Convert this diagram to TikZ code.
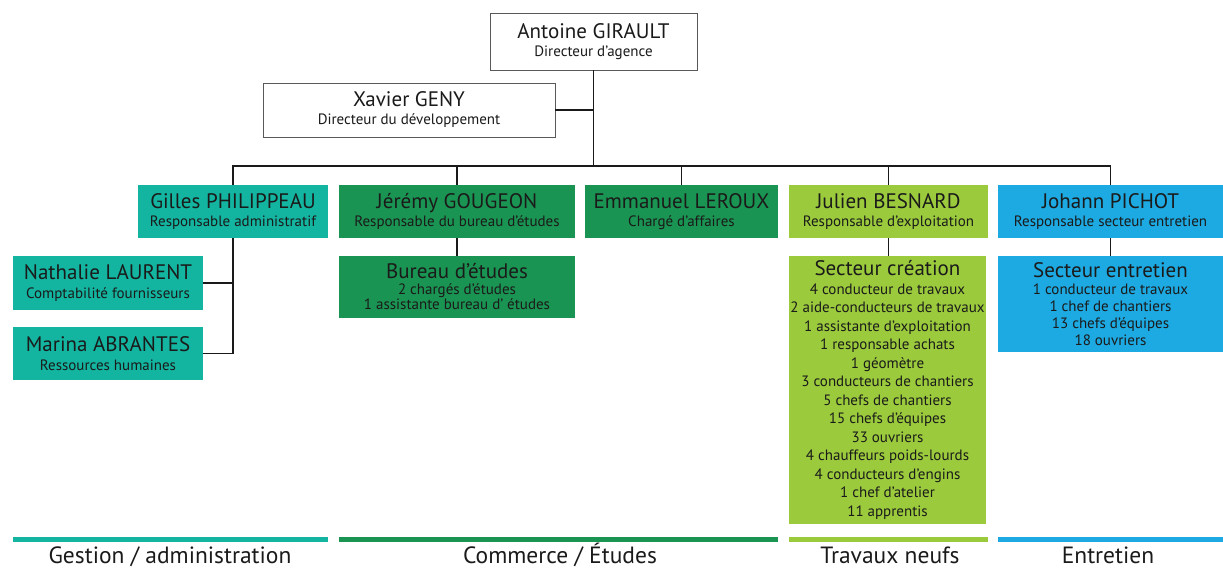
\documentclass[tikz,border=0pt]{standalone}
\usepackage{fontspec}
\setmainfont{PT Sans}
\usetikzlibrary{positioning,calc}
\definecolor{cGestion}{HTML}{13B5A0}
\definecolor{cCommerce}{HTML}{1A9452}
\definecolor{cTravaux}{HTML}{9BCB3C}
\definecolor{cEntretien}{HTML}{1DA9E1}
\definecolor{cLine}{HTML}{1A1A1A}
\newcommand{\pname}[1]{{\fontsize{21}{18.5}\selectfont #1}}

\begin{document}
\begin{tikzpicture}[
    x=1pt, y=-1pt,
    topbox/.style={draw=black!65, fill=white, line width=0.8pt, align=center, inner sep=1pt,
        text=cLine, font=\fontsize{15}{18}\selectfont},
    colbox/.style={fill=#1, align=center, inner sep=1pt, text=cLine, minimum height=53,
        font=\fontsize{15}{18.5}\selectfont},
    listbox/.style={fill=#1, align=center, inner sep=1pt, text=cLine,
        font=\fontsize{15}{18.5}\selectfont},
    link/.style={draw=cLine, line width=1.6pt},
    cat/.style={font=\fontsize{23.5}{26}\selectfont, text=cLine, anchor=base},
]
\useasboundingbox (0,0) rectangle (1223,568);

% direction
\node[topbox, minimum width=207, minimum height=57] (antoine) at (593.5,41.5)
    {\pname{Antoine GIRAULT}\\Directeur d'agence};
\node[topbox, minimum width=292, minimum height=54] (xavier) at (409,110)
    {\pname{Xavier GENY}\\Directeur du développement};

% responsables
\node[colbox=cGestion, minimum width=190] (gilles) at (233,211.5)
    {\pname{Gilles PHILIPPEAU}\\Responsable administratif};
\node[colbox=cCommerce, minimum width=236] (jeremy) at (457,211.5)
    {\pname{Jérémy GOUGEON}\\Responsable du bureau d'études};
\node[colbox=cCommerce, minimum width=193] (emmanuel) at (681.5,211.5)
    {\pname{Emmanuel LEROUX}\\Chargé d'affaires};
\node[colbox=cTravaux, minimum width=199] (julien) at (888.5,211.5)
    {\pname{Julien BESNARD}\\Responsable d'exploitation};
\node[colbox=cEntretien, minimum width=225] (johann) at (1110.5,211.5)
    {\pname{Johann PICHOT}\\Responsable secteur entretien};

% administration
\node[colbox=cGestion, minimum width=190, minimum height=54] (nathalie) at (108,283)
    {\pname{Nathalie LAURENT}\\Comptabilité fournisseurs};
\node[colbox=cGestion, minimum width=190] (marina) at (108,353.5)
    {\pname{Marina ABRANTES}\\Ressources humaines};

% secteurs
\node[listbox=cCommerce, minimum width=236, minimum height=62,
    font=\fontsize{15}{15.5}\selectfont] (bureau) at (457,287)
    {\pname{Bureau d'études}\\2 chargés d'études\\1 assistante bureau d' études};
\node[listbox=cTravaux, minimum width=197, minimum height=268] (creation) at (887.5,390)
    {\pname{Secteur création}\\
     4 conducteur de travaux\\
     2 aide-conducteurs de travaux\\
     1 assistante d'exploitation\\
     1 responsable achats\\
     1 géomètre\\
     3 conducteurs de chantiers\\
     5 chefs de chantiers\\
     15 chefs d'équipes\\
     33 ouvriers\\
     4 chauffeurs poids-lourds\\
     4 conducteurs d'engins\\
     1 chef d'atelier\\
     11 apprentis};
\node[listbox=cEntretien, minimum width=225, minimum height=96,
    font=\fontsize{15}{17}\selectfont] (entretien) at (1110.5,304)
    {\pname{Secteur entretien}\\
     1 conducteur de travaux\\
     1 chef de chantiers\\
     13 chefs d'équipes\\
     18 ouvriers};

% liaisons
\coordinate (bus) at (antoine.south |- 0,166);
\draw[link] (antoine.south) -- (bus);
\draw[link] (xavier.east) -- (xavier.east -| antoine.south);
\draw[link] (gilles.north) |- (bus) -| (johann.north);
\draw[link] (jeremy.north) -- (jeremy.north |- bus);
\draw[link] (emmanuel.north) -- (emmanuel.north |- bus);
\draw[link] (julien.north) -- (julien.north |- bus);
\draw[link] (gilles.south) |- (nathalie.east);
\draw[link] (gilles.south) |- (marina.east);
\draw[link] (jeremy.south) -- (bureau.north);
\draw[link] (julien.south) -- (julien.south |- creation.north);
\draw[link] (johann.south) -- (entretien.north);

% poles
\fill[cGestion] (13,537) rectangle (328,542);
\fill[cCommerce] (339,537) rectangle (778,542);
\fill[cTravaux] (789,537) rectangle (988,542);
\fill[cEntretien] (998,537) rectangle (1223,542);
\node[cat] (gestion) at (170,563) {Gestion / administration};
\node[cat] (commerce) at (560,563) {Commerce / Études};
\node[cat] (travaux) at (890,563) {Travaux neufs};
\node[cat] (entretienlbl) at (1108,563) {Entretien};
\end{tikzpicture}
\end{document}
